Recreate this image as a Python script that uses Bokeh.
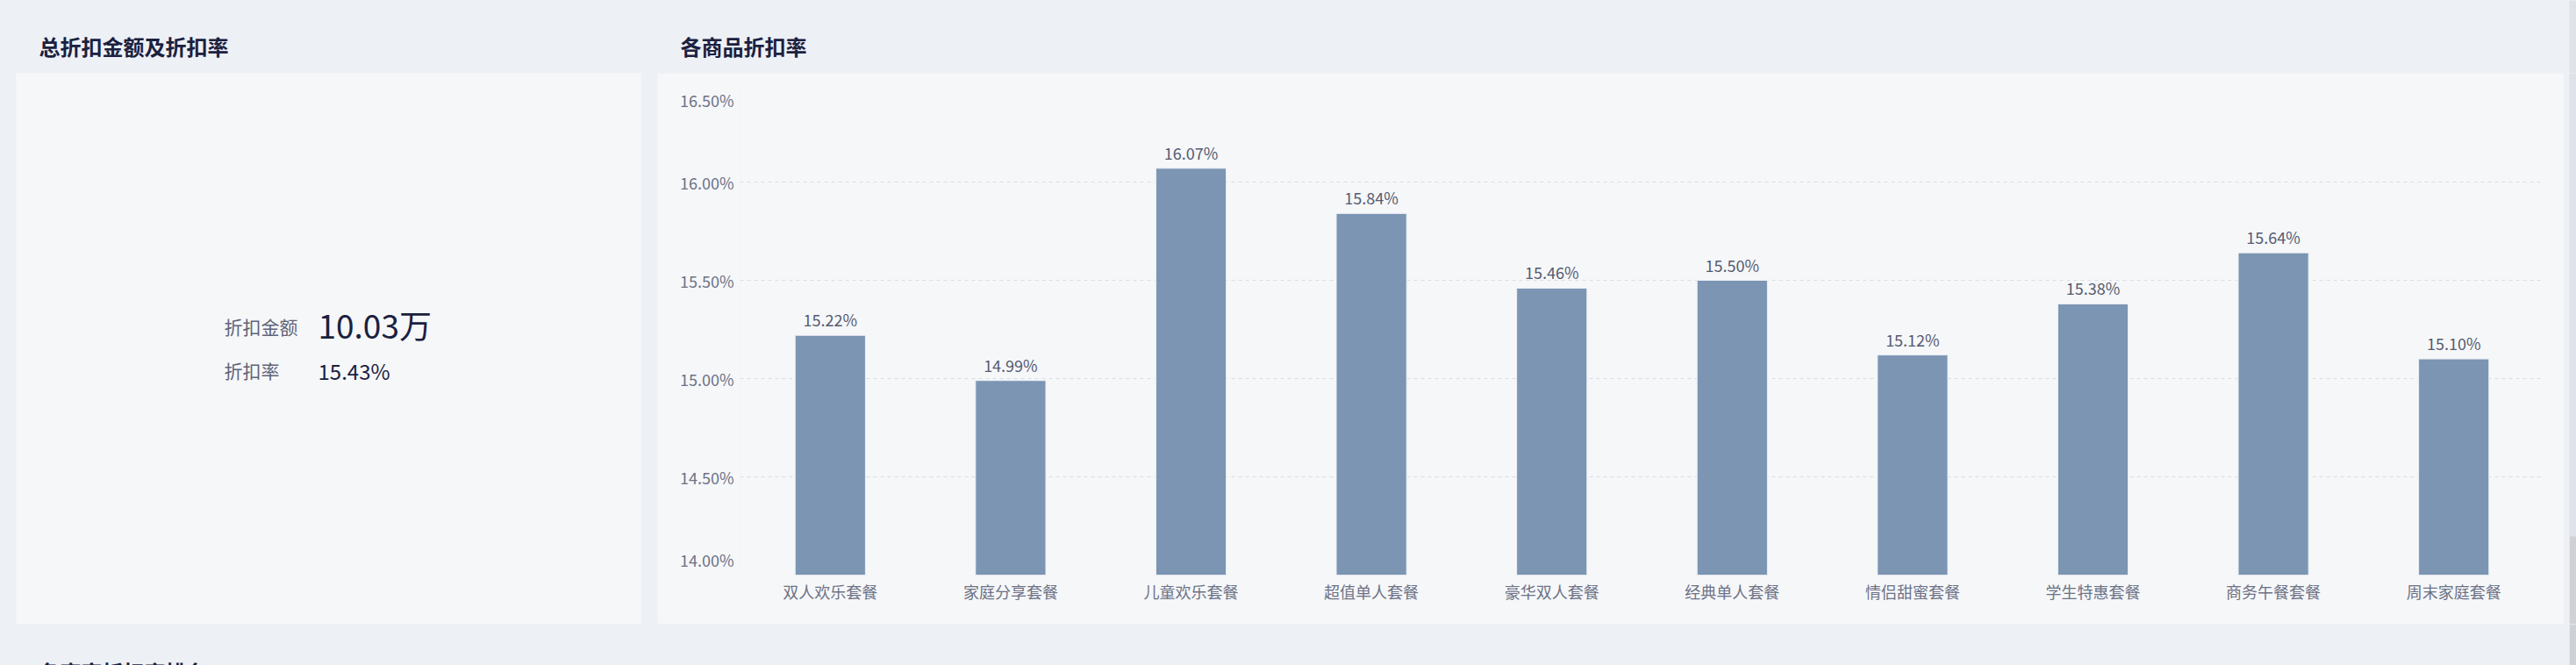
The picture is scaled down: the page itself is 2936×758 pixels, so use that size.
from bokeh.plotting import figure
from bokeh.layouts import column, row
from bokeh.models import Range1d, FactorRange, FixedTicker, ColumnDataSource
from bokeh.core.properties import value
from bokeh.embed import file_html
from bokeh.resources import INLINE

# ---------------- data ----------------
categories = ["双人欢乐套餐", "家庭分享套餐", "儿童欢乐套餐", "超值单人套餐", "豪华双人套餐",
              "经典单人套餐", "情侣甜蜜套餐", "学生特惠套餐", "商务午餐套餐", "周末家庭套餐"]
discount_rates = [15.22, 14.99, 16.07, 15.84, 15.46, 15.50, 15.12, 15.38, 15.64, 15.10]
y_ticks = [14.0, 14.5, 15.0, 15.5, 16.0, 16.5]
y_tick_labels = ["14.00%", "14.50%", "15.00%", "15.50%", "16.00%", "16.50%"]
kpi_labels = ["折扣金额", "折扣率"]
kpi_values = ["10.03万", "15.43%"]
panel_titles = ["总折扣金额及折扣率", "各商品折扣率", "各商家折扣率排名"]

# ---------------- style ----------------
FONT = "Noto Sans CJK SC"
PAGE_BG = "#edf0f5"
CARD_BG = "#f6f7f9"
BAR = "#7b95b3"
TITLE_C = "#1b2140"
LABEL_C = "#555b70"
AXIS_C = "#6c7286"
GRID_C = "#d9dde4"
TRACK_C = "#dfe2e6"
THUMB_C = "#cfd1d5"

W, H = 2936, 758
SB_X0, SB_X1, THUMB_Y0 = 2928, 2936, 611   # browser scrollbar strip on the right edge


def deco(w, h, x0, x1, y0, y1, bg):
    f = figure(width=w, height=h, x_range=Range1d(x0, x1), y_range=Range1d(y1, y0),
               output_backend="svg", toolbar_location=None,
               x_axis_location=None, y_axis_location=None, min_border=0,
               background_fill_color=bg, border_fill_color=bg, outline_line_color=None,
               frame_align=False)
    f.xgrid.visible = False
    f.ygrid.visible = False
    return f


def scrollbar(f, y0, y1):
    f.quad(left=[SB_X0], right=[SB_X1], top=[y0], bottom=[y1], fill_color=TRACK_C, line_color=None)
    ty0, ty1 = max(y0, THUMB_Y0), y1
    if ty1 > ty0:
        f.quad(left=[SB_X0 + 0.5], right=[SB_X1], top=[ty0], bottom=[ty1],
               fill_color=THUMB_C, line_color=None)


# header band (page y 0..83)
hdr = deco(W, 83, 0, W, 0, 83, PAGE_BG)
hdr.text(x=[44, 775], y=[52, 52], text=panel_titles[:2], text_font=value(FONT),
         text_font_size="24px", text_font_style="bold", text_color=TITLE_C,
         text_baseline="middle", text_align="left")
scrollbar(hdr, 0, 83)

# left KPI card (page x 0..749, y 83..711; card x 18..730)
left = figure(width=749, height=628, x_range=Range1d(18, 730), y_range=Range1d(711, 83),
              output_backend="svg", toolbar_location=None,
              x_axis_location=None, y_axis_location=None,
              min_border_left=18, min_border_right=19, min_border_top=0, min_border_bottom=0,
              background_fill_color=CARD_BG, border_fill_color=PAGE_BG, outline_line_color=None,
              frame_align=False)
left.xgrid.visible = False
left.ygrid.visible = False
left.text(x=[255, 255], y=[371, 421], text=kpi_labels, text_font=value(FONT),
          text_font_size="21px", text_color="#5e6478", text_baseline="middle", text_align="left")
left.text(x=[362], y=[369], text=kpi_values[:1], text_font=value(FONT),
          text_font_size="37px", text_color=TITLE_C, text_baseline="middle", text_align="left")
left.text(x=[362], y=[422], text=kpi_values[1:], text_font=value(FONT),
          text_font_size="24px", text_color=TITLE_C, text_baseline="middle", text_align="left")

# right bar chart card (page x 749..2922, y 83..711; plot area x 843..2899, y 95..655)
src = ColumnDataSource(dict(cat=categories, rate=discount_rates,
                            lbl=["%.2f%%" % v for v in discount_rates]))
p = figure(width=2173, height=628, x_range=FactorRange(*categories, range_padding=0),
           y_range=Range1d(y_ticks[0], y_ticks[-1]),
           output_backend="svg", toolbar_location=None,
           min_border_left=94, min_border_right=23, min_border_top=12, min_border_bottom=56,
           background_fill_color=CARD_BG, border_fill_color=CARD_BG, outline_line_color=None,
           frame_align=False)
p.vbar(x="cat", top="rate", bottom=y_ticks[0], width=0.39, source=src,
       fill_color=BAR, line_color="#eef1f5", line_width=1)
p.text(x="cat", y="rate", text="lbl", source=src, y_offset=-5,
       text_font=value(FONT), text_font_size="18px", text_color=LABEL_C,
       text_align="center", text_baseline="bottom")

p.xgrid.visible = False
p.ygrid.ticker = FixedTicker(ticks=y_ticks)
p.ygrid.grid_line_color = GRID_C
p.ygrid.grid_line_dash = "4 4"
p.ygrid.grid_line_width = 1

# end labels sit inside the plot area, like the original chart
px_per_unit = 560 / (y_ticks[-1] - y_ticks[0])
inset = 18 / px_per_unit
label_pos = [y_ticks[0] + inset] + y_ticks[1:-1] + [y_ticks[-1] - inset]
yax = p.yaxis[0]
yax.ticker = FixedTicker(ticks=label_pos)
yax.major_label_overrides = {pos: lab for pos, lab in zip(label_pos, y_tick_labels)}
xax = p.xaxis[0]
for ax in (yax, xax):
    ax.axis_line_color = None
    ax.major_tick_line_color = None
    ax.minor_tick_line_color = None
    ax.major_tick_out = 0
    ax.major_tick_in = 0
    ax.minor_tick_out = 0
    ax.minor_tick_in = 0
    ax.major_label_text_font = FONT
    ax.major_label_text_font_size = "18px"
    ax.major_label_text_color = AXIS_C
yax.major_label_standoff = 7
xax.major_label_standoff = 5

# right strip (page x 2922..2936, y 83..711)
pad = deco(W - 749 - 2173, 628, 749 + 2173, W, 83, 711, PAGE_BG)
scrollbar(pad, 83, 711)

# bottom band (page y 711..758) with the next section title peeking in
bot = deco(W, H - 711, 0, W, 711, H, PAGE_BG)
bot.text(x=[44], y=[747], text=panel_titles[2:], text_font=value(FONT),
         text_font_size="24px", text_font_style="bold", text_color=TITLE_C,
         text_baseline="top", text_align="left")
scrollbar(bot, 711, H)

layout = column(hdr, row(left, p, pad, spacing=0), bot, spacing=0)

html = file_html(layout, INLINE, title="折扣率")
html = html.replace("<head>", "<head><style>html, body { background: #edf0f5; }</style>", 1)
open("out.html", "w").write(html)
